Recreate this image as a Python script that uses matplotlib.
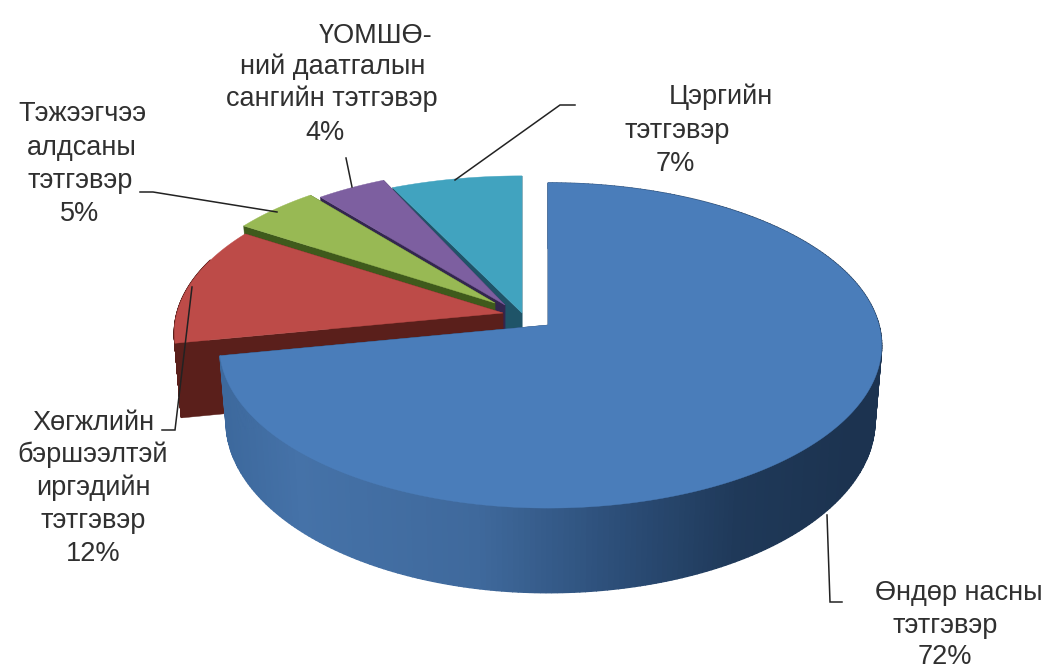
import numpy as np
import matplotlib
matplotlib.use("Agg")
import matplotlib.pyplot as plt

# Data
categories = ["Өндөр насны тэтгэвэр", "Хөгжлийн бэршээлтэй иргэдийн тэтгэвэр",
              "Тэжээгчээ алдсаны тэтгэвэр", "ҮОМШӨ-ний даатгалын сангийн тэтгэвэр",
              "Цэргийн тэтгэвэр"]
values = [72, 12, 5, 4, 7]
top_colors = ["#4a7dba", "#bd4b48", "#98b954", "#7d5fa0", "#41a3bf"]
wall_colors = ["#1d3553", "#5a1f1b", "#3f5a1c", "#33264f", "#1f5468"]
apexes = [(548, 325), (503, 313), (495, 303), (505, 305), (522, 313)]
radius_scale = [1.0, 0.985, 0.96, 0.96, 0.965]
left_scale = [0.985, 1.0, 1.0, 1.0, 1.06]

label_lines = [
    [("Өндөр насны", 959, 593), ("тэтгэвэр", 945, 626), ("72%", 945, 657)],
    [("Хөгжлийн", 93, 423), ("бэршээлтэй", 93, 455), ("иргэдийн", 93, 488),
     ("тэтгэвэр", 93, 521), ("12%", 93, 554)],
    [("Тэжээгчээ", 82, 114), ("алдсаны", 82, 148), ("тэтгэвэр", 80, 181), ("5%", 80, 214)],
    [("ҮОМШӨ-", 376, 36), ("ний даатгалын", 333, 67), ("сангийн тэтгэвэр", 332, 99), ("4%", 325, 133)],
    [("Цэргийн", 721, 97), ("тэтгэвэр", 677, 131), ("7%", 675, 164)],
]
leaders = [
    [(827, 515), (830, 602), (842, 602)],
    [(192, 287), (175, 430), (162, 430)],
    [(277, 212), (153, 192), (140, 192)],
    [(352, 187), (346, 158)],
    [(455, 180), (560, 105), (575, 105)],
]

RX, RY, K, DEPTH, SHRINK = 331.0, 160.0, 0.126, 74.0, 0.98

plt.rcParams["font.family"] = ["Liberation Sans", "DejaVu Sans"]
fig = plt.figure(figsize=(10.51, 6.69), dpi=100, facecolor="white")
ax = fig.add_axes([0, 0, 1, 1])
ax.set_xlim(0, 1051)
ax.set_ylim(669, 0)
ax.axis("off")


def project(theta, i):
    apex, scale = apexes[i], radius_scale[i]
    u, v = np.sin(theta), np.cos(theta)
    w = 1 + K * v
    sx = np.where(u < 0, left_scale[i], 1.0)
    return apex[0] + sx * scale * RX * u / w, apex[1] - scale * RY * v / w, DEPTH / w


def blue_wall_color(x):
    stops_x = [215, 300, 480, 620, 740, 850]
    stops = np.array([[0x3c, 0x68, 0x9c], [0x45, 0x72, 0xa8], [0x3f, 0x69, 0x9c],
                      [0x2c, 0x4e, 0x78], [0x1f, 0x39, 0x59], [0x1c, 0x33, 0x50]]) / 255
    return tuple(np.interp(x, stops_x, stops[:, c]) for c in range(3))


def draw_slice(i, a0, a1, z):
    apex, scale = apexes[i], radius_scale[i]
    th = np.linspace(a0, a1, 300)
    x, y, d = project(th, i)
    xb = apex[0] + (x - apex[0]) * SHRINK
    yb = y + d * scale
    for xe, ye, xbe, ybe in ((x[0], y[0], xb[0], yb[0]), (x[-1], y[-1], xb[-1], yb[-1])):
        ax.fill([apex[0], xe, xbe, apex[0]], [apex[1], ye, ybe, apex[1] + DEPTH],
                color=wall_colors[i], lw=0.3, zorder=z)
    for j in range(len(th) - 1):
        if np.cos(th[j]) > 0.35 and i != 0:
            continue
        c = blue_wall_color(x[j]) if i == 0 else wall_colors[i]
        ax.fill([x[j], x[j + 1], xb[j + 1], xb[j]], [y[j], y[j + 1], yb[j + 1], yb[j]],
                color=c, lw=1.0, zorder=z + 1)
    ax.fill(np.r_[apex[0], x], np.r_[apex[1], y], color=top_colors[i], lw=0.3, zorder=z + 2)


fractions = np.array(values, dtype=float) / sum(values)
edges = np.r_[0, np.cumsum(fractions)] * 2 * np.pi
# painter order: back slices first, the large slice last
for rank, i in enumerate([4, 3, 2, 1, 0]):
    draw_slice(i, edges[i], edges[i + 1], rank * 3 + 1)

for pts in leaders:
    xs, ys = zip(*pts)
    ax.plot(xs, ys, color="#222222", lw=1.1, zorder=30, solid_joinstyle="miter")

for lines in label_lines:
    for s, x, y in lines:
        ax.text(x, y, s, ha="center", va="center", fontsize=19.5, color="#303030", zorder=40)

fig.savefig("out.png", dpi=100)
